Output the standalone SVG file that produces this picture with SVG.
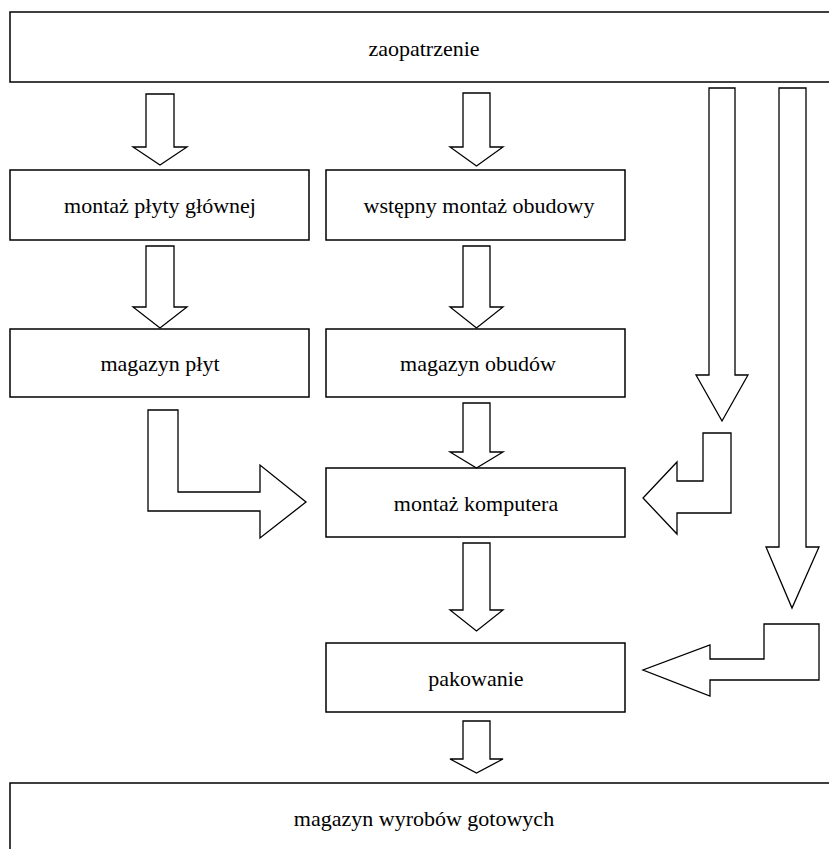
<svg xmlns="http://www.w3.org/2000/svg" width="829" height="849" viewBox="0 0 829 849">
<style>
.box{fill:#fff;stroke:#000;stroke-width:1.5}
.arr{fill:#fff;stroke:#000;stroke-width:1.3;stroke-linejoin:miter}
</style>
<rect width="829" height="849" fill="#fff"/>
<g font-family="Times New Roman, Liberation Serif, Tinos, DejaVu Serif, serif" font-size="22" text-anchor="middle" fill="#000">
<g id="zaopatrzenie"><rect class="box" x="10" y="12" width="840" height="70"/><text x="424" y="56">zaopatrzenie</text></g>
<g id="montaz-plyty"><rect class="box" x="10" y="170" width="299" height="70"/><text x="160" y="213">montaż płyty głównej</text></g>
<g id="wstepny-montaz"><rect class="box" x="326" y="170" width="299" height="70"/><text x="479" y="213">wstępny montaż obudowy</text></g>
<g id="magazyn-plyt"><rect class="box" x="10" y="329" width="299" height="68"/><text x="160" y="371">magazyn płyt</text></g>
<g id="magazyn-obudow"><rect class="box" x="326" y="329" width="299" height="68"/><text x="478" y="371">magazyn obudów</text></g>
<g id="montaz-komputera"><rect class="box" x="326" y="468" width="299" height="69"/><text x="476" y="511">montaż komputera</text></g>
<g id="pakowanie"><rect class="box" x="326" y="643" width="299" height="69"/><text x="476" y="686">pakowanie</text></g>
<g id="magazyn-wyrobow"><rect class="box" x="10" y="783" width="840" height="90"/><text x="424" y="826">magazyn wyrobów gotowych</text></g>
</g>
<g id="connectors">
<polygon class="arr" points="146,94 174,94 174,147 187,147 160,165 133,147 146,147"/>
<polygon class="arr" points="146,246 174,246 174,307 187,307 160,328 133,307 146,307"/>
<polygon class="arr" points="463,93 490,93 490,147 503,147 476.5,166 450,147 463,147"/>
<polygon class="arr" points="463,246 490,246 490,307 503,307 476.5,328 450,307 463,307"/>
<polygon class="arr" points="463,403 490,403 490,452 503,452 476.5,468 450,452 463,452"/>
<polygon class="arr" points="463,543 490,543 490,610 503,610 476.5,631 450,610 463,610"/>
<polygon class="arr" points="463,721 490,721 490,759 503,759 476.5,773 450,759 463,759"/>
<polygon class="arr" points="709,88 735,88 735,375 748,375 722,421 696,375 709,375"/>
<polygon class="arr" points="779,88 806,88 806,547 819,547 792,608 766,547 779,547"/>
<polygon class="arr" points="148,410 178,410 178,492 260,492 260,465 306,502 260,538 260,511 148,511"/>
<polygon class="arr" points="703,433 731,433 731,513 677,513 677,534 643,498 677,462 677,481 703,481"/>
<polygon class="arr" points="764,624 819,624 819,680 710,680 710,696 643,670 710,645 710,659 764,659"/>
</g>
</svg>
